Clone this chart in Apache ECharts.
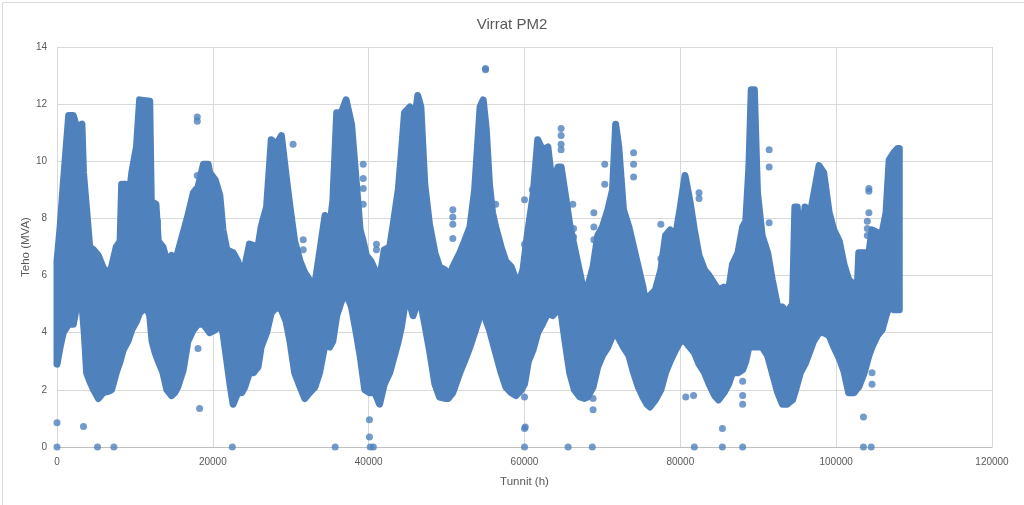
<!DOCTYPE html>
<html><head><meta charset="utf-8">
<script src="https://cdn.jsdelivr.net/npm/echarts@6/dist/echarts.min.js"></script>
<style>html,body{margin:0;padding:0;background:#fff}#c{width:1024px;height:505px}</style>
</head><body><div id="c"></div>
<script>
// Upper envelope of the dense point cloud [hours, MVA]
const upperEdge = [
[0,6.5],[400,7.7],[800,9.2],[1500,11.6],[2100,11.6],[2500,11.2],[3200,11.3],[3400,9.6],[3800,8.3],[4200,7.0],
[4700,6.9],[5300,6.7],[5900,6.3],[6400,6.0],[6800,6.2],[7000,6.3],[7600,7.0],[8100,7.2],[8300,9.2],[8800,9.2],
[9100,8.4],[9600,9.6],[10200,10.5],[10600,12.15],[11900,12.1],[12100,8.6],[12700,8.5],[13000,7.2],[13600,7.0],[14100,6.5],
[14700,6.7],[15100,6.1],[15500,6.8],[16200,7.5],[16800,8.1],[17500,8.9],[18100,9.1],[18800,9.9],[19400,9.9],[19600,9.6],
[20300,9.35],[20900,8.8],[21300,7.6],[21800,6.9],[22600,6.8],[23200,6.5],[23700,6.0],[24100,6.3],[24700,7.1],[25800,7.0],
[26200,7.7],[26900,8.4],[27500,10.75],[28200,10.6],[28800,10.9],[29400,9.5],[29900,8.4],[30500,7.2],[31200,6.5],[31800,6.1],
[32400,5.85],[33100,5.7],[33700,6.8],[34400,8.1],[35000,7.7],[35400,8.6],[35900,11.7],[36500,11.7],[37100,12.15],[37800,11.3],
[38400,9.3],[38900,7.6],[39300,7.2],[39700,6.7],[40300,6.5],[40800,6.2],[41400,5.85],[42000,6.9],[42700,7.0],[43100,7.7],
[43800,9.0],[44200,10.3],[44600,11.7],[45300,11.9],[45700,11.0],[46300,12.3],[46700,11.9],[47200,9.2],[47800,7.8],[48500,6.8],
[49100,6.3],[49800,6.2],[50200,5.9],[50800,6.3],[51700,6.8],[52300,7.2],[53000,7.7],[53600,9.0],[54300,11.9],[54700,12.15],
[55100,11.1],[55500,9.2],[55900,8.2],[56300,7.7],[57000,7.0],[57600,6.5],[58300,6.3],[58900,5.85],[59400,5.85],[59800,6.2],
[60400,7.5],[61100,8.8],[61700,10.75],[62300,10.4],[63000,10.5],[63600,9.1],[64300,9.8],[64700,9.8],[65200,8.9],[65800,7.8],
[66400,7.0],[67100,6.1],[67700,5.3],[68100,5.6],[68800,6.3],[69400,7.4],[70000,7.7],[70700,8.3],[71300,9.0],[71700,11.3],
[72100,10.5],[72700,8.3],[73400,7.7],[74000,7.0],[74600,6.3],[75200,5.6],[75700,4.8],[76100,5.3],[76800,5.5],[77500,6.2],
[78100,7.4],[78700,7.6],[79400,7.4],[80000,8.4],[80600,9.5],[81200,8.65],[81800,7.6],[82400,6.7],[83100,6.2],[83700,6.0],
[84400,5.7],[84900,5.5],[85600,5.6],[86200,5.5],[86700,6.4],[87400,6.8],[88000,7.7],[88400,7.9],[88800,9.8],[89100,12.5],
[89500,12.5],[89900,8.9],[90500,7.4],[91200,6.8],[91800,5.85],[92500,4.9],[93100,4.9],[93700,4.7],[94400,5.0],[94700,8.4],
[95000,8.4],[95400,6.8],[96000,8.4],[96700,8.2],[97100,8.8],[97800,9.85],[98400,9.6],[99100,8.2],[99700,7.6],[100400,7.2],
[101000,6.4],[101600,5.85],[102300,5.7],[102700,5.5],[102900,6.8],[103600,6.8],[104200,6.8],[104600,7.6],[105300,7.5],[105900,7.5],
[106400,8.2],[106800,10.05],[107400,10.3],[107900,10.45],[108100,10.45]
];
// Lower envelope of the dense point cloud [hours, MVA]
const lowerEdge = [
[0,2.9],[400,3.5],[800,4.0],[1500,4.3],[2100,4.3],[2500,4.9],[3200,5.0],[3500,4.0],[3800,2.6],[4200,2.3],
[4700,2.0],[5300,1.7],[5900,1.9],[6600,1.95],[7000,2.0],[7600,2.6],[8100,3.0],[8500,3.4],[9100,3.7],[9600,4.1],
[10200,4.4],[10600,4.7],[11500,4.9],[11900,4.6],[12200,3.7],[12600,3.3],[13000,3.0],[13600,2.6],[14100,2.0],[14700,1.8],
[15100,1.9],[15500,2.1],[16200,2.7],[16800,3.7],[17500,4.1],[18100,4.3],[18800,4.3],[19600,4.0],[20300,4.1],[20900,4.3],
[21300,4.0],[21800,3.0],[22200,2.2],[22600,1.5],[23200,1.9],[23700,1.9],[24100,2.1],[24700,2.6],[25200,2.6],[25800,2.8],
[26200,3.5],[26900,4.0],[27500,4.7],[28200,4.9],[28800,4.8],[29400,4.4],[29900,3.7],[30500,2.6],[31200,2.1],[31800,1.7],
[32400,1.9],[33100,2.1],[33700,2.6],[34400,3.6],[35000,3.5],[35400,3.7],[35900,4.6],[36500,5.1],[37100,5.4],[37800,4.9],
[38400,4.0],[38900,3.2],[39500,2.0],[40100,1.9],[40800,1.9],[41400,1.5],[42000,2.2],[42700,2.6],[43100,3.0],[43800,3.7],
[44200,4.2],[44600,4.9],[45300,5.0],[45700,4.6],[46300,5.1],[46700,5.0],[47200,4.3],[47800,3.4],[48500,2.2],[49100,1.75],
[49800,1.7],[50200,1.7],[50800,1.9],[51700,2.6],[52300,3.0],[53000,3.5],[53600,4.0],[54300,4.6],[54700,4.9],[55100,4.4],
[55500,4.1],[55900,3.7],[56300,3.3],[57000,2.6],[57600,2.1],[58300,1.9],[58900,1.8],[59600,2.0],[60000,2.2],[60500,3.0],
[61100,3.4],[61700,4.0],[62300,4.3],[63000,4.7],[63600,4.6],[64300,4.8],[64700,4.7],[65200,3.7],[65800,2.6],[66400,2.0],
[67100,1.75],[67700,1.7],[68100,1.75],[68800,2.1],[69400,2.8],[70000,3.2],[70700,3.5],[71300,3.9],[71700,4.0],[72100,3.8],
[72700,3.5],[73400,3.2],[74000,2.6],[74600,2.1],[75200,1.75],[75700,1.5],[76100,1.4],[76800,1.65],[77500,2.0],[78100,2.6],
[78700,3.0],[79400,3.4],[80000,3.7],[80600,3.7],[81200,3.5],[81800,3.3],[82400,2.9],[83100,2.6],[83700,2.2],[84400,1.8],
[84900,1.65],[85600,1.9],[86200,2.2],[86700,2.6],[87400,2.6],[88000,2.7],[88400,3.0],[88800,3.5],[89300,3.5],[89900,3.5],
[90500,3.5],[91200,3.2],[91800,2.6],[92500,1.9],[93100,1.5],[93700,1.5],[94400,1.65],[94800,2.0],[95400,2.6],[96000,2.9],
[96700,3.4],[97100,3.7],[97800,4.0],[98400,4.0],[99100,3.9],[99700,3.5],[100400,3.1],[101000,2.65],[101600,1.9],[102300,1.9],
[102700,2.05],[102900,2.1],[103600,2.6],[104200,3.2],[104600,3.5],[105300,3.9],[105900,4.1],[106400,4.6],[106800,4.9],[107400,4.8],
[108100,4.8]
];
// Isolated points outside the dense cloud [hours, MVA]
const outliers = [
[0,0],[0,0.85],[3400,0.72],[5200,0],[7300,0],[12900,7.9],[12900,7.75],[17600,8.8],[17600,8.7],[17700,7.8],
[18000,11.55],[18000,11.4],[18000,9.5],[18300,1.35],[18100,3.45],[22500,0],[30300,10.6],[31600,7.25],[31600,6.9],[35700,0],
[39300,9.9],[39300,9.4],[39300,9.05],[39300,8.5],[40100,0.95],[40100,0.35],[40200,0],[40600,0],[41000,7.1],[41000,6.9],
[50800,8.3],[50800,8.05],[50800,7.8],[50800,7.3],[55000,13.25],[55000,13.2],[56300,8.5],[60000,8.65],[60000,7.1],[60000,1.75],
[60000,0.65],[60100,0.7],[60000,0],[61000,9.0],[64700,11.15],[64700,10.9],[64700,10.6],[64700,10.4],[66200,8.5],[66300,7.65],
[66300,7.35],[66300,7.05],[65600,0],[68700,0],[68800,1.7],[68800,1.3],[68900,8.2],[68900,7.7],[68900,7.25],[70300,9.9],
[70300,9.2],[74000,10.3],[74000,9.9],[74000,9.45],[77500,7.8],[77500,6.6],[77500,6.1],[80700,1.75],[81700,1.8],[81800,0],
[82400,8.9],[82400,8.7],[85400,0.65],[85400,0],[88000,1.8],[88000,1.5],[88000,2.3],[88000,0],[91400,10.4],[91400,9.8],
[91400,7.85],[103500,1.05],[103500,0],[104500,0],[104200,9.05],[104200,8.95],[104200,8.2],[104000,7.9],[104000,7.65],[104000,7.4],
[104600,2.2],[104600,2.6]
];
const xMin = 0, xMax = 120000, xStep = 20000;
const yMin = 0, yMax = 14, yStep = 2;

const BLUE = '#4F81BD';
const TXT = '#595959';
const FONT = "'Liberation Sans', Arial, sans-serif";

const chart = echarts.init(document.getElementById('c'), null, {renderer: 'canvas'});
chart.setOption({
  animation: false,
  backgroundColor: '#fff',
  title: {
    text: 'Virrat PM2', left: 'center', top: 12,
    textStyle: {color: TXT, fontSize: 15, fontWeight: 'normal', fontFamily: FONT}
  },
  graphic: [{
    type: 'rect', left: 0, top: 0, silent: true,
    shape: {x: 0.5, y: 0.5, width: 1023, height: 504},
    style: {fill: 'none', stroke: '#D9D9D9', lineWidth: 1}
  }],
  grid: {left: 57, right: 32, top: 47, bottom: 58},
  xAxis: {
    type: 'value', min: xMin, max: xMax, interval: xStep,
    name: 'Tunnit (h)', nameLocation: 'middle', nameGap: 29, nameMoveOverlap: false,
    nameTextStyle: {color: TXT, fontSize: 11.5, fontFamily: FONT},
    axisLine: {show: true, lineStyle: {color: '#BFBFBF', width: 1}},
    axisTick: {show: false},
    axisLabel: {color: TXT, fontSize: 10, fontFamily: FONT, margin: 10,
      formatter: function (v) { return String(v); }},
    splitLine: {show: true, lineStyle: {color: '#D9D9D9', width: 1}}
  },
  yAxis: {
    type: 'value', min: yMin, max: yMax, interval: yStep,
    name: 'Teho (MVA)', nameLocation: 'middle', nameGap: 25, nameRotate: 90, nameMoveOverlap: false,
    nameTextStyle: {color: TXT, fontSize: 11.5, fontFamily: FONT},
    axisLine: {show: false},
    axisTick: {show: false},
    axisLabel: {color: TXT, fontSize: 10, fontFamily: FONT, margin: 10},
    splitLine: {show: true, lineStyle: {color: '#D9D9D9', width: 1}}
  },
  series: [
    {
      type: 'custom',
      clip: false,
      data: [[0, 0]],
      renderItem: function (params, api) {
        const pts = upperEdge.map(p => api.coord(p))
          .concat(lowerEdge.slice().reverse().map(p => api.coord(p)));
        return {
          type: 'polygon',
          shape: {points: pts},
          style: {fill: BLUE, stroke: BLUE, lineWidth: 7, lineJoin: 'round'}
        };
      }
    },
    {
      type: 'scatter',
      clip: false,
      symbol: 'circle',
      symbolSize: 7,
      itemStyle: {color: BLUE},
      data: outliers
    }
  ]
});
</script>
</body></html>
